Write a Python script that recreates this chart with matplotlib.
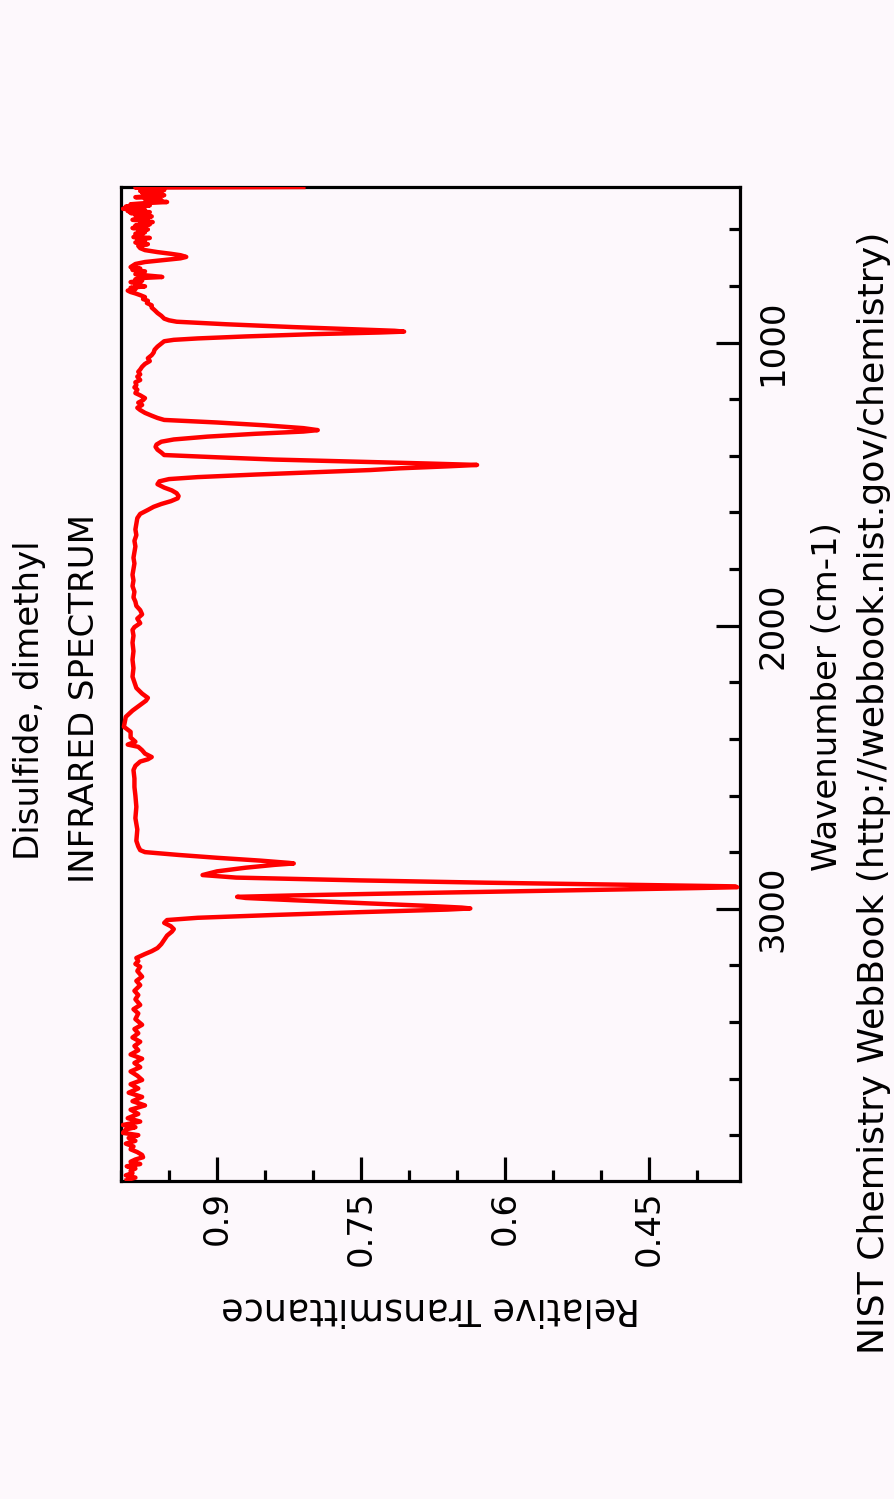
import matplotlib
matplotlib.use("Agg")
import matplotlib.pyplot as plt
from matplotlib.ticker import MultipleLocator, FixedLocator

# ---- data ----
wavenumber = [450, 452, 455, 458, 461, 464, 467, 470, 473, 476, 479, 482, 486, 489, 493, 496, 500, 503, 507, 511,
              515, 519, 523, 527, 531, 535, 539, 542, 546, 550, 554, 558, 562, 566, 570, 574, 578, 582, 586, 590,
              595, 600, 605, 610, 615, 620, 627, 630, 635, 640, 646, 652, 658, 666, 673, 680, 686, 691, 697, 702,
              708, 715, 722, 733, 738, 743, 748, 754, 758, 762, 766, 768, 771, 776, 781, 786, 791, 796, 801, 806,
              811, 816, 821, 826, 832, 839, 846, 852, 860, 868, 876, 885, 895, 905, 915, 921, 926, 935, 945, 953,
              958, 961, 964, 970, 978, 985, 990, 995, 1003, 1014, 1025, 1035, 1044, 1055, 1065, 1075, 1085, 1095,
              1103, 1112, 1120, 1132, 1140, 1150, 1158, 1166, 1178, 1186, 1196, 1203, 1212, 1220, 1230, 1238, 1248,
              1258, 1266, 1273, 1282, 1292, 1302, 1309, 1314, 1322, 1332, 1342, 1350, 1360, 1368, 1378, 1388, 1397,
              1405, 1413, 1420, 1427, 1432, 1437, 1444, 1450, 1458, 1466, 1475, 1482, 1490, 1500, 1512, 1522, 1532,
              1542, 1550, 1560, 1570, 1580, 1591, 1605, 1620, 1640, 1660, 1680, 1700, 1720, 1740, 1760, 1780, 1800,
              1820, 1840, 1860, 1880, 1900, 1915, 1930, 1945, 1960, 1975, 1991, 2005, 2015, 2035, 2060, 2090, 2120,
              2150, 2180, 2200, 2220, 2240, 2255, 2265, 2280, 2300, 2322, 2340, 2357, 2375, 2395, 2410, 2420, 2428,
              2440, 2452, 2464, 2472, 2480, 2495, 2510, 2540, 2570, 2600, 2640, 2680, 2720, 2760, 2780, 2793, 2800,
              2810, 2820, 2830, 2838, 2840, 2845, 2855, 2868, 2881, 2890, 2900, 2908, 2914, 2918, 2921, 2924, 2927,
              2933, 2940, 2947, 2953, 2958, 2962, 2970, 2980, 2990, 2996, 2999, 3003, 3012, 3022, 3032, 3040, 3050,
              3062, 3072, 3081, 3095, 3110, 3125, 3139, 3150, 3160, 3174, 3185, 3195, 3205, 3220, 3240, 3255, 3270,
              3290, 3305, 3320, 3340, 3355, 3370, 3390, 3410, 3425, 3440, 3455, 3470, 3485, 3500, 3515, 3530, 3545,
              3560, 3575, 3590, 3605, 3620, 3635, 3650, 3665, 3680, 3695, 3710, 3725, 3740, 3752, 3764, 3772, 3780,
              3792, 3800, 3810, 3820, 3830, 3840, 3850, 3860, 3870, 3878, 3886, 3894, 3902, 3910, 3918, 3926, 3934,
              3942, 3950, 3959]

transmittance = [.81, .985, .957, .975, .955, .98, .962, .978, .958, .972, .955, .968, .985, .96, .975, .958, .970, .952, .975, .99,
                 .97, .995, .978, .998, .975, .993, .97, .99, .975, .985, .968, .982, .972, .988, .975, .967, .98, .97, .985, .975,
                 .988, .972, .982, .975, .985, .978, .987, .97, .983, .975, .985, .972, .982, .98, .975, .962, .948, .938, .932, .938,
                 .955, .975, .985, .99, .98, .988, .975, .977, .985, .975, .962, .957, .975, .985, .978, .99, .98, .985, .975, .99,
                 .985, .993, .99, .985, .98, .975, .977, .972, .973, .968, .968, .965, .962, .958, .955, .950, .942, .89, .82, .755,
                 .715, .705, .73, .80, .87, .92, .945, .955, .958, .962, .965, .966, .968, .972, .97, .975, .978, .98,
                 .982, .98, .983, .98, .985, .984, .986, .983, .985, .98, .975, .977, .982, .978, .983, .98, .975,
                 .968, .962, .955, .90, .85, .81, .795, .81, .86, .91, .945, .958, .963, .964, .962, .958, .955,
                 .90, .84, .76, .68, .629, .66, .71, .74, .80, .86, .92, .95, .96, .962, .955, .947, .942,
                 .94, .941, .948, .958, .966, .972, .98, .983, .984, .985, .984, .986, .985, .986, .987, .986, .987,
                 .988, .987, .988, .986, .987, .985, .984, .98, .978, .983, .98, .986, .988, .987, .988, .987, .988,
                 .987, .988, .986, .984, .978, .972, .974, .98, .988, .995, .996, .997, .99, .99, .985, .993, .982,
                 .978, .975, .968, .972, .98, .985, .987, .986, .986, .985, .984, .985, .983, .984, .982, .98, .975,
                 .94, .90, .855, .825, .82, .84, .87, .90, .915, .88, .75, .62, .50, .42, .36, .358, .40,
                 .50, .62, .73, .82, .879, .87, .82, .75, .68, .645, .636, .66, .75, .84, .92, .952, .955,
                 .948, .945, .947, .952, .955, .958, .962, .968, .975, .984, .982, .985, .98, .983, .978, .984, .98,
                 .986, .982, .985, .98, .987, .982, .985, .978, .986, .982, .988, .98, .986, .982, .99, .978, .986,
                 .98, .99, .983, .978, .99, .982, .992, .978, .988, .975, .99, .982, .993, .98, .998, .985, .995,
                 .998, .982, .992, .985, .995, .987, .99, .983, .978, .977, .985, .99, .98, .994, .985, .99, .988,
                 .995, .985, .994]

title_lines = ["Disulfide, dimethyl", "INFRARED SPECTRUM"]
x_label = "Wavenumber (cm-1)"
y_label = "Relative Transmittance"
credit = "NIST Chemistry WebBook (http://webbook.nist.gov/chemistry)"
wn_major = [1000, 2000, 3000]
tr_major = [0.9, 0.75, 0.6, 0.45]
tr_major_labels = ["0.9", "0.75", "0.6", "0.45"]

# ---- figure ----
W_PX, H_PX = 895, 1499
bg = "#fdf8fc"
FS = 24.5
fig = plt.figure(figsize=(W_PX / 100, H_PX / 100), dpi=100, facecolor=bg)

ax_l, ax_r, ax_t, ax_b = 121, 740, 187, 1181
ax = fig.add_axes([ax_l / W_PX, 1 - ax_b / H_PX, (ax_r - ax_l) / W_PX, (ax_b - ax_t) / H_PX])
ax.set_facecolor(bg)

ax.plot(transmittance, wavenumber, color="#ff0000", lw=3.2, solid_joinstyle="round", zorder=3, clip_on=True)

ax.set_xlim(1.0, 0.355)
ax.set_ylim(3962, 450)

for s in ax.spines.values():
    s.set_linewidth(2.3)
    s.set_color("black")

# transmittance axis (bottom)
ax.xaxis.set_major_locator(FixedLocator(tr_major))
ax.xaxis.set_minor_locator(MultipleLocator(0.05))
ax.set_xticklabels(tr_major_labels)
ax.tick_params(axis="x", which="both", direction="in", bottom=True, top=False, width=2.3,
               labelsize=FS, labelrotation=90, pad=7)
ax.tick_params(axis="x", which="major", length=17)
ax.tick_params(axis="x", which="minor", length=8)

# wavenumber axis (right)
ax.yaxis.tick_right()
ax.yaxis.set_major_locator(FixedLocator(wn_major))
ax.yaxis.set_minor_locator(MultipleLocator(200))
ax.tick_params(axis="y", which="both", direction="in", right=True, left=False, width=2.3,
               labelsize=FS, labelrotation=90, pad=12)
ax.tick_params(axis="y", which="major", length=17)
ax.tick_params(axis="y", which="minor", length=8)
for lbl in ax.get_yticklabels():
    lbl.set_va("center")
    lbl.set_ha("left")

def fx(px):
    return px / W_PX

def fy(py):
    return 1 - py / H_PX

fig.text(fx(30), fy(700), title_lines[0], rotation=90, ha="center", va="center", fontsize=FS)
fig.text(fx(85), fy(698), title_lines[1], rotation=90, ha="center", va="center", fontsize=FS)
fig.text(fx(828), fy(697), x_label, rotation=90, ha="center", va="center", fontsize=FS)
fig.text(fx(874), fy(793), credit, rotation=90, ha="center", va="center", fontsize=26.1)
fig.text(fx(431), fy(1309), y_label, rotation=180, ha="center", va="center", fontsize=26.3)

fig.savefig("out.png", dpi=100, facecolor=bg)
